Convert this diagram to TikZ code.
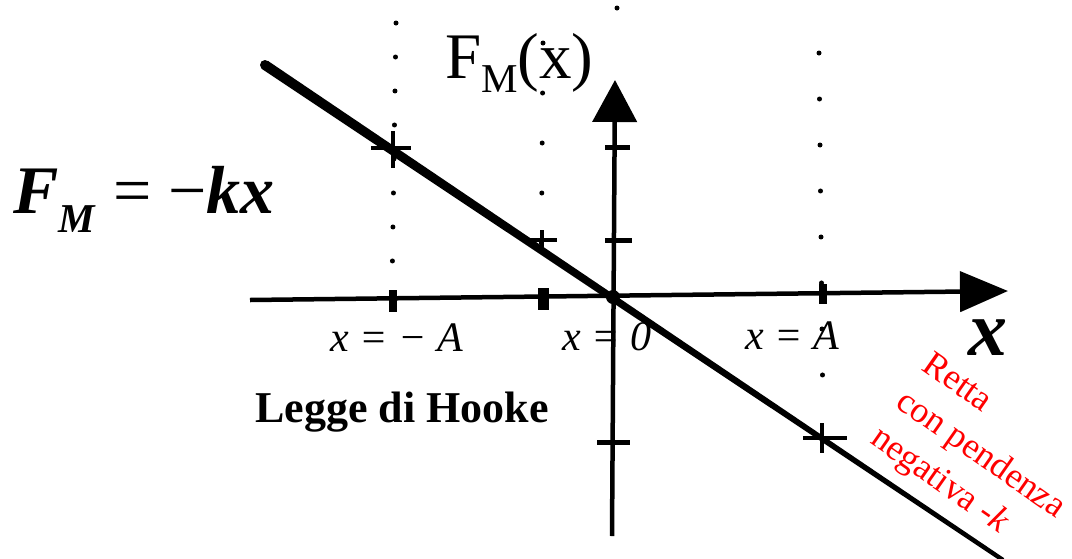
\documentclass[tikz,border=0pt]{standalone}
\usepackage{fontspec}
\setmainfont{Liberation Serif}
\usetikzlibrary{arrows.meta}

\begin{document}
\begin{tikzpicture}[x=1pt,y=-1pt,
  asse/.style={line width=4.5pt},
  tacca/.style={line width=5pt},
  crocetta/.style={line width=4pt},
  puntini/.style={line width=5pt,line cap=round,dash pattern=on 0pt off #1},
  etich/.style={font=\fontsize{42}{42}\selectfont\itshape}]
  \useasboundingbox (0,0) rectangle (1072,558);
  % assi
  \coordinate (O) at (613,297);
  \coordinate (xsx) at (250,300); \coordinate (xdx) at (1008,291);
  \coordinate (ygiu) at (612,536); \coordinate (ysu) at (615,80);
  \draw[asse,-{Triangle[length=48pt,width=40pt]}] (xsx)--(xdx);
  \draw[asse,-{Triangle[length=42pt,width=44pt]}] (ygiu)--(ysu);
  % linee tratteggiate
  \draw[puntini=34pt] (396,23)--(392,290);
  \draw[puntini=50pt] (543,43)--(541,293);
  \draw[puntini=46pt] (819,53)--(823,420);
  \fill (617,8) circle (2.5);
  % tacche
  \draw[tacca] (605,147)--(630,147) (605,240)--(632,240) (597,442)--(630,442);
  \draw[line width=8pt] (393,290)--(393,312);
  \draw[line width=11pt] (543,288)--(543,310);
  \draw[line width=8pt] (823,284)--(823,304);
  \fill (O) circle (7);
  % retta F = -kx
  \fill (262.2,69.2)--(267.8,60.8)--(1004.2,558.2)--(1001.8,561.8)--cycle;
  \fill (265,65) circle (5);
  \draw[crocetta] (371,148)--(411,148) (393,131)--(393,168);
  \draw[crocetta] (527,240)--(557,240) (542,230)--(542,250);
  \draw[crocetta] (803,438)--(847,438) (822,423)--(822,453);
  % etichette
  \node[anchor=base west,inner sep=0pt] (Fx) at (445,78)
    {\fontsize{65}{65}\selectfont F\raisebox{-14pt}{\fontsize{41}{41}\selectfont M}(x)};
  \node[anchor=base west,inner sep=0pt] (legge) at (13,213)
    {\fontsize{68}{68}\selectfont\textbf{\textit{F}}\raisebox{-19pt}{\fontsize{41}{41}\selectfont\textbf{\textit{M}}} = −\textbf{\textit{kx}}};
  \node[etich] (xmA) at (397,338) {x = − A};
  \node[etich] (x0) at (607,337) {x = 0};
  \node[etich] (xA) at (792,336) {x = A};
  \node[font=\fontsize{78}{78}\selectfont\bfseries\itshape] (xlab) at (988,338) {x};
  \node[anchor=base west,inner sep=0pt,font=\fontsize{44}{44}\selectfont\bfseries] (hooke) at (255,422) {Legge di Hooke};
  \node[red,rotate=-35,align=left,inner sep=0pt,font=\fontsize{36}{45}\selectfont] (retta) at (980,456)
    {Retta\\con pendenza\\negativa -\textit{k}};
\end{tikzpicture}
\end{document}
